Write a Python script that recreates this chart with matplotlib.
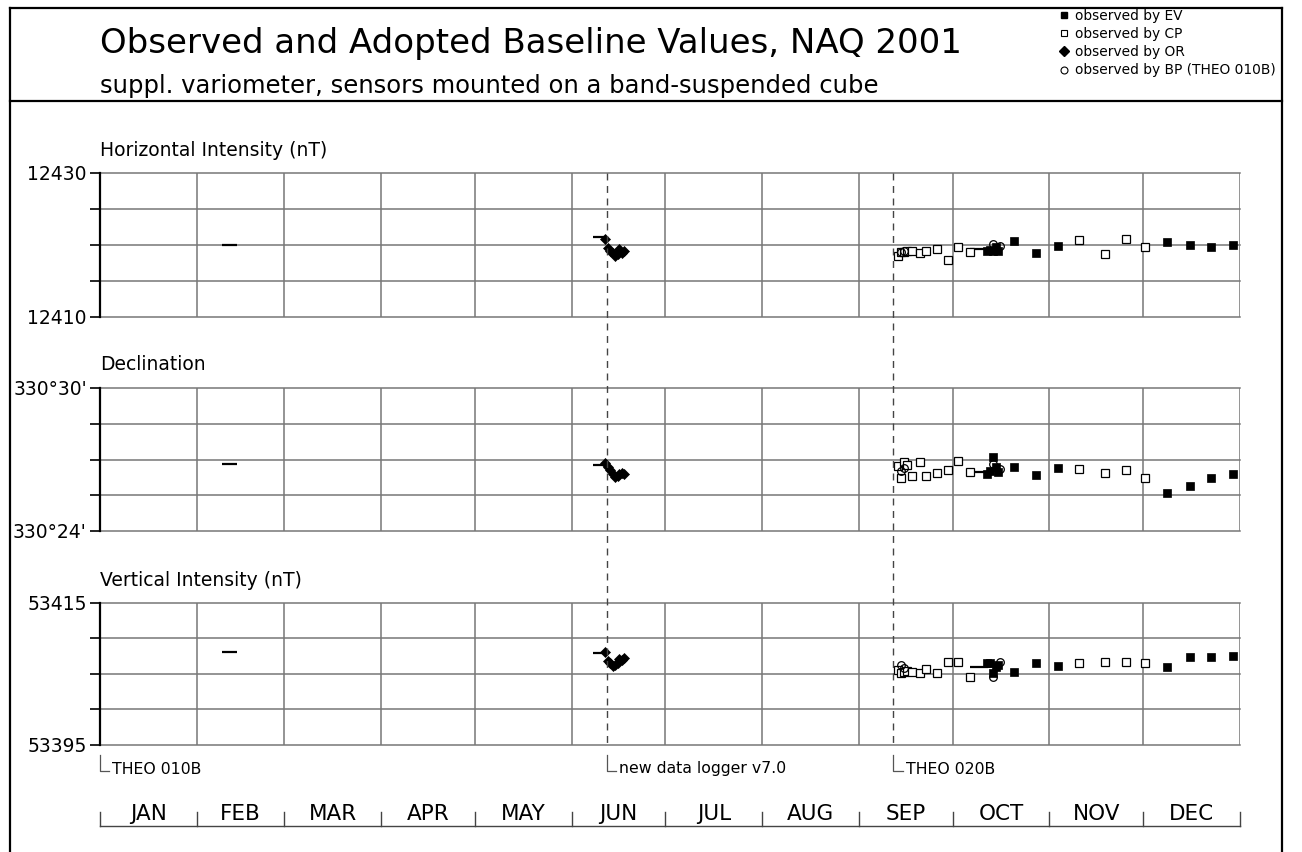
import matplotlib
matplotlib.use('Agg')
import matplotlib.pyplot as plt
from matplotlib.lines import Line2D
from matplotlib.transforms import blended_transform_factory

plt.rcParams['font.family'] = ['DejaVu Sans']

# ---------------- data ----------------
month_names = ['JAN', 'FEB', 'MAR', 'APR', 'MAY', 'JUN',
               'JUL', 'AUG', 'SEP', 'OCT', 'NOV', 'DEC']
month_edges = [0, 31, 59, 90, 120, 151, 181, 212, 243, 273, 304, 334, 365]

# day of year (0 = 1 Jan) of observations
ev_days = [284.0, 285.0, 286.0, 286.8, 287.6, 292.6, 299.7, 306.7,
           341.5, 349.0, 355.7, 362.7]
cp_days = [255.6, 256.5, 257.4, 258.5, 260.0, 262.5, 264.4, 267.9,
           271.5, 274.7, 278.6, 313.5, 321.8, 328.5, 334.7]
or_days = [161.7, 162.6, 163.4, 164.1, 164.9, 165.7, 166.3, 167.1, 167.8]
bp_days = [256.5, 257.4, 285.8, 288.2]

# Horizontal intensity (nT)
ev_h = [12419.21, 12419.31, 12419.17, 12419.76, 12419.21, 12420.60,
        12418.85, 12419.90, 12420.46, 12420.04, 12419.76, 12420.00]
cp_h = [12418.47, 12419.07, 12419.07, 12419.17, 12419.10, 12418.85,
        12419.17, 12419.49, 12417.92, 12419.76, 12419.07, 12420.65,
        12418.75, 12420.88, 12419.68]
or_h = [12420.79, 12419.54, 12419.21, 12418.85, 12418.51, 12418.71,
        12419.40, 12418.93, 12419.17]
bp_h = [12419.07, 12419.17, 12420.14, 12419.86]

# Declination (arc minutes above 330 deg)
ev_d = [26.39, 26.53, 27.12, 26.70, 26.49, 26.70, 26.35, 26.66,
        25.61, 25.90, 26.24, 26.39]
cp_d = [26.73, 26.21, 26.88, 26.77, 26.31, 26.89, 26.31, 26.42,
        26.56, 26.92, 26.49, 26.60, 26.42, 26.56, 26.24]
or_d = [26.84, 26.70, 26.56, 26.39, 26.28, 26.32, 26.38, 26.42, 26.39]
bp_d = [26.53, 26.64, 26.81, 26.59]

# Vertical intensity (nT)
ev_z = [53406.51, 53406.59, 53405.10, 53406.03, 53406.27, 53405.32,
        53406.59, 53406.17, 53406.03, 53407.44, 53407.35, 53407.58]
cp_z = [53405.56, 53405.10, 53405.28, 53405.42, 53405.28, 53405.10,
        53405.66, 53405.18, 53406.73, 53406.73, 53404.54, 53406.51,
        53406.73, 53406.73, 53406.51]
or_z = [53408.14, 53406.87, 53406.51, 53406.13, 53406.27, 53406.59,
        53407.07, 53406.97, 53407.21]
bp_z = [53406.27, 53405.85, 53404.62, 53406.73]

# adopted baseline values (short segments)
adopt_start = [39.1, 157.7, 278.6]
adopt_end = [43.9, 161.7, 284.3]
adopt_h = [12420.00, 12421.07, 12419.49]
adopt_d = [26.81, 26.77, 26.49]
adopt_z = [53408.10, 53408.00, 53406.03]

event_days = [0.0, 162.3, 254.0]
event_labels = ['THEO 010B', 'new data logger v7.0', 'THEO 020B']

legend_labels = ['observed by EV', 'observed by CP', 'observed by OR',
                 'observed by BP (THEO 010B)']

# ---------------- figure ----------------
W, H = 1302, 852
fig = plt.figure(figsize=(W / 100, H / 100), dpi=100)


def fx(px):
    return px / W


def fy(py):
    return 1 - py / H


GRID = '#777777'

panels = [
    dict(title='Horizontal Intensity (nT)', ty=150, top=173, bottom=317,
         ylim=(12410, 12430), ticks=[12410, 12415, 12420, 12425, 12430],
         labels=['12410', '', '', '', '12430'],
         ev=ev_h, cp=cp_h, orr=or_h, bp=bp_h, ad=adopt_h),
    dict(title='Declination', ty=365, top=388, bottom=531,
         ylim=(24, 30), ticks=[24, 25.5, 27, 28.5, 30],
         labels=["330°24'", '', '', '', "330°30'"],
         ev=ev_d, cp=cp_d, orr=or_d, bp=bp_d, ad=adopt_d),
    dict(title='Vertical Intensity (nT)', ty=580, top=603, bottom=745,
         ylim=(53395, 53415), ticks=[53395, 53400, 53405, 53410, 53415],
         labels=['53395', '', '', '', '53415'],
         ev=ev_z, cp=cp_z, orr=or_z, bp=bp_z, ad=adopt_z),
]

axes = []
for p in panels:
    ax = fig.add_axes([fx(100), fy(p['bottom']), fx(1240) - fx(100),
                       (p['bottom'] - p['top']) / H])
    axes.append(ax)
    ax.set_xlim(0, 365)
    ax.set_ylim(*p['ylim'])
    ax.patch.set_alpha(0)
    for s in ['top', 'right', 'bottom']:
        ax.spines[s].set_visible(False)
    ax.spines['left'].set_linewidth(1.6)
    ax.spines['left'].set_color('black')
    ax.spines['left'].set_zorder(5)
    ax.set_xticks([])
    ax.set_yticks(p['ticks'])
    ax.set_yticklabels(p['labels'])
    ax.tick_params(axis='y', length=7.5, width=1.2, color='black', pad=2,
                   labelsize=13.5)
    # horizontal grid
    for t in p['ticks']:
        ax.axhline(t, xmin=0, xmax=1, color=GRID, lw=1.1, zorder=1,
                   clip_on=False)
    # month grid
    ax.vlines(month_edges[1:], p['ylim'][0], p['ylim'][1], color=GRID,
              lw=1.1, zorder=1)
    # panel title
    fig.text(fx(100), fy(p['ty']), p['title'], fontsize=13.5,
             ha='left', va='center')
    # adopted baselines
    ax.hlines(p['ad'], adopt_start, adopt_end, color='black', lw=1.6,
              zorder=3)
    # observations
    ax.plot(cp_days, p['cp'], ls='none', marker='s', ms=5.2, mfc='white',
            mec='black', mew=0.9, zorder=4, clip_on=False)
    ax.plot(or_days, p['orr'], ls='none', marker='D', ms=5.2, mfc='black',
            mec='black', mew=0.5, zorder=4, clip_on=False)
    ax.plot(ev_days, p['ev'], ls='none', marker='s', ms=5.4, mfc='black',
            mec='black', mew=0.5, zorder=4, clip_on=False)
    ax.plot(bp_days, p['bp'], ls='none', marker='o', ms=5.5, mfc='none',
            mec='black', mew=0.9, zorder=4, clip_on=False)

# shared transform: x in days, y in figure fraction
bt = blended_transform_factory(axes[2].transData, fig.transFigure)

# dashed event lines through all panels
for d in event_days[1:]:
    fig.add_artist(Line2D([d, d], [fy(173), fy(745)], transform=bt,
                          color='#444444', lw=1.0, ls=(0, (5, 4))))

# event annotations
for d, lab in zip(event_days, event_labels):
    fig.add_artist(Line2D([d, d, d + 3.0], [fy(755), fy(771), fy(771)],
                          transform=bt, color='#555555', lw=0.9))
    fig.text(d + 4.0, fy(769), lab, transform=bt, fontsize=11.3,
             ha='left', va='center')

# month axis at the bottom
fig.add_artist(Line2D([0, 365], [fy(826), fy(826)], transform=bt,
                      color='#444444', lw=1.0))
for e in month_edges:
    fig.add_artist(Line2D([e, e], [fy(812), fy(826)], transform=bt,
                          color='#444444', lw=1.0))
for i, m in enumerate(month_names):
    mid = 0.5 * (month_edges[i] + month_edges[i + 1])
    fig.text(mid, fy(814), m, transform=bt, fontsize=15.5, ha='center',
             va='center')

# header
fig.text(fx(100), fy(43), 'Observed and Adopted Baseline Values, NAQ 2001',
         fontsize=24.5, ha='left', va='center')
fig.text(fx(100), fy(86),
         'suppl. variometer, sensors mounted on a band-suspended cube',
         fontsize=17.5, ha='left', va='center')

# legend
handles = [
    Line2D([], [], ls='none', marker='s', ms=5, mfc='black', mec='black'),
    Line2D([], [], ls='none', marker='s', ms=5, mfc='white', mec='black',
           mew=0.8),
    Line2D([], [], ls='none', marker='D', ms=5, mfc='black', mec='black'),
    Line2D([], [], ls='none', marker='o', ms=5, mfc='white', mec='black',
           mew=0.8),
]
fig.legend(handles, legend_labels, loc='upper left',
           bbox_to_anchor=(fx(1058), fy(9)), frameon=False, fontsize=9.9,
           handlelength=0.8, handletextpad=0.45, labelspacing=0.3,
           borderpad=0, borderaxespad=0)

# outer frame
for xs, ys in [([10, 10], [8, 852]), ([10, 1282], [8, 8]),
               ([1282, 1282], [8, 852]), ([10, 1282], [101, 101])]:
    fig.add_artist(Line2D([fx(x) for x in xs], [fy(y) for y in ys],
                          transform=fig.transFigure, color='black', lw=1.6,
                          zorder=10))

fig.savefig('out.png', dpi=100)
